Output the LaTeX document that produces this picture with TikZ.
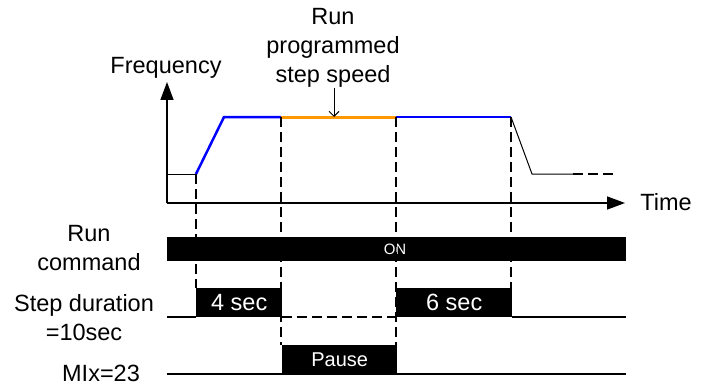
\documentclass[tikz,border=0pt]{standalone}
\usepackage{fontspec}
\setmainfont{Liberation Sans}
\usetikzlibrary{arrows.meta}
\begin{document}
\begin{tikzpicture}[x=1pt,y=-1pt,
  lbl/.style={inner sep=0pt,font=\fontsize{23.5}{29}\selectfont,align=center},
  axisline/.style={line width=1.5pt,-{Triangle[length=18pt,width=13pt]}},
  sigline/.style={line width=1.3pt},
  vdash/.style={line width=2.7pt,dash pattern=on 10pt off 5pt},
  blk/.style={fill=black,text=white,inner sep=0pt,font=\fontsize{23.5}{27}\selectfont},
  bluel/.style={line width=2.5pt,draw={rgb,255:red,0;green,0;blue,255}},
  orangel/.style={line width=3pt,draw={rgb,255:red,255;green,153;blue,0}}]
\useasboundingbox (0,0) rectangle (708,385);
% coordinates
\coordinate (o) at (167,203);
\coordinate (ytop) at (167,82);
\coordinate (xend) at (625,203);
\coordinate (l0) at (167,174);
\coordinate (f0) at (196,174);
\coordinate (f1) at (224,117);
\coordinate (f2) at (281,117);
\coordinate (f3) at (396,117);
\coordinate (f4) at (511,117);
\coordinate (f5) at (532,174);
\coordinate (f6) at (573,174);
\coordinate (f7) at (617,174);
\coordinate (a0) at (334,88);
\coordinate (a1) at (334,117);
% axes
\draw[axisline] (o) -- (ytop);
\draw[axisline] (o) -- (xend);
\draw[sigline,line width=1pt] (l0) -- (f0);
% frequency profile
\draw[bluel] (f0) -- (f1) -- (f2);
\draw[orangel] (f2) -- (f3);
\draw[bluel] (f3) -- (f4);
\draw[line width=1pt] (f4) -- (f5) -- (f6);
\draw[vdash] (f6) -- (f7);
\draw[line width=1pt,-{Straight Barb[length=5pt,width=10pt]}] (a0) -- (a1);
% labels
\node[lbl] (freq) at (166,68) {Frequency};
\node[lbl] (rps) at (333,48) {Run\\programmed\\step speed};
\node[lbl] (time) at (666,202) {Time};
\node[lbl] (runc) at (89,248) {Run\\command};
\node[lbl] (stepd) at (84,318) {Step duration\\=10sec};
\node[lbl] (mix) at (101,373) {MIx=23};
% run command bar
\node[blk,minimum width=459pt,minimum height=24pt,anchor=north west] (onbar) at (167,237) {};
\node[inner sep=0pt,text=white,font=\fontsize{15}{18}\selectfont] (on) at (395,249) {ON};
% step duration row
\coordinate (s0) at (167,317);
\coordinate (s1) at (196,317);
\coordinate (s2) at (282,317);
\coordinate (s3) at (396,317);
\coordinate (s4) at (512,317);
\coordinate (s5) at (626,317);
\node[blk,minimum width=86pt,minimum height=29pt,anchor=south west] (b4) at (s1) {4 sec};
\node[blk,minimum width=116pt,minimum height=29pt,anchor=south west] (b6) at (s3) {6 sec};
\draw[sigline] (s0) -- (s1);
\draw[vdash] (s2) -- (s3);
\draw[sigline] (s4) -- (s5);
% MIx row
\coordinate (m0) at (167,374);
\coordinate (m1) at (282,374);
\coordinate (m2) at (626,374);
\node[blk,font=\fontsize{20}{24}\selectfont,minimum width=115pt,minimum height=29pt,anchor=south west] (bp) at (m1) {Pause};
\draw[sigline] (m0) -- (m2);
% dashed verticals
\coordinate (d1b) at (196,288);
\coordinate (d2b) at (281,345);
\coordinate (d3b) at (396,345);
\coordinate (d4b) at (511,288);
\draw[vdash] (f0) -- (d1b);
\draw[vdash] (f2) -- (d2b);
\draw[vdash] (f3) -- (d3b);
\draw[vdash] (f4) -- (d4b);
\end{tikzpicture}
\end{document}
